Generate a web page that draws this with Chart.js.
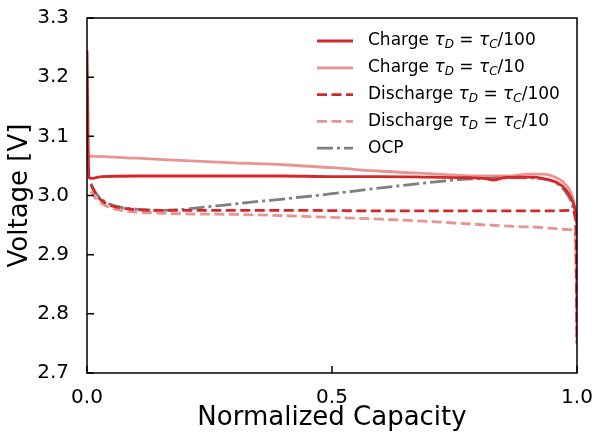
<!DOCTYPE html>
<html>
<head>
<meta charset="utf-8">
<script src="https://cdn.jsdelivr.net/npm/chart.js@4"></script>
<style>
  body { margin: 0; background: #fff; }
  canvas { display: block; }
</style>
</head>
<body>
<canvas id="volt-graph" width="595" height="436"></canvas>
<script>
// normalized capacity / voltage pairs
var chargeFastCap = [0, 0.004, 0.01, 0.03, 0.1, 0.2, 0.3, 0.4, 0.5, 0.6, 0.7, 0.78, 0.81, 0.83, 0.85, 0.88, 0.91, 0.93, 0.95, 0.97, 0.985, 0.995, 1.0];
var chargeFastV   = [3.245, 3.03, 3.029, 3.032, 3.033, 3.033, 3.033, 3.033, 3.032, 3.032, 3.031, 3.03, 3.029, 3.026, 3.03, 3.031, 3.031, 3.029, 3.025, 3.016, 3.0, 2.98, 2.955];

var chargeSlowCap = [0, 0.01, 0.1, 0.2, 0.3, 0.4, 0.5, 0.6, 0.7, 0.8, 0.86, 0.9, 0.93, 0.96, 0.975, 0.99, 1.0];
var chargeSlowV   = [3.066, 3.066, 3.063, 3.059, 3.055, 3.052, 3.047, 3.041, 3.037, 3.033, 3.033, 3.036, 3.036, 3.029, 3.02, 3.0, 2.96];

var dischargeFastCap = [0.008, 0.02, 0.04, 0.07, 0.1, 0.15, 0.2, 0.4, 0.6, 0.8, 0.95, 0.99, 0.997, 1.0];
var dischargeFastV   = [3.018, 3.0, 2.986, 2.979, 2.976, 2.975, 2.975, 2.975, 2.974, 2.974, 2.974, 2.975, 2.96, 2.75];

var dischargeSlowCap = [0.008, 0.02, 0.04, 0.07, 0.1, 0.15, 0.2, 0.3, 0.4, 0.5, 0.6, 0.7, 0.8, 0.9, 0.99, 0.997, 1.0];
var dischargeSlowV   = [3.007, 2.993, 2.982, 2.975, 2.972, 2.97, 2.969, 2.968, 2.966, 2.963, 2.96, 2.956, 2.951, 2.947, 2.942, 2.93, 2.75];

var ocpCap = [0.008, 0.02, 0.04, 0.07, 0.1, 0.15, 0.2, 0.27, 0.35, 0.4, 0.5, 0.6, 0.7, 0.76, 0.82, 0.88, 0.93, 0.96, 0.98, 0.99, 1.0];
var ocpV   = [3.02, 3.002, 2.988, 2.98, 2.977, 2.975, 2.977, 2.983, 2.99, 2.994, 3.003, 3.013, 3.022, 3.027, 3.029, 3.03, 3.028, 3.02, 3.002, 2.985, 2.95];

var yTicks = [2.7, 2.8, 2.9, 3.0, 3.1, 3.2, 3.3];
var xTicks = [0, 0.5, 1.0];

// legend text pieces: [prefix, denominator]
var legendLabels = [
	['Charge', '100'],
	['Charge', '10'],
	['Discharge', '100'],
	['Discharge', '10'],
	['OCP', null]
];

var FONT = '"DejaVu Sans", sans-serif';

function pts(xs, ys) {
	return xs.map(function(x, i) { return {x: x, y: ys[i]}; });
}

function line(label, xs, ys, color, dash) {
	return {
		label: label,
		data: pts(xs, ys),
		borderColor: color,
		backgroundColor: color,
		borderWidth: 2.8,
		borderDash: dash || [],
		pointRadius: 0,
		fill: false,
		tension: 0,
		cubicInterpolationMode: 'monotone'
	};
}

var dark = 'rgb(214, 39, 40)';
var light = 'rgba(214, 39, 40, 0.5)';
var ocpColor = 'rgba(0, 0, 0, 0.5)';

var frame = {
	id: 'frame',
	afterDraw: function(chart) {
		var ctx = chart.ctx, a = chart.chartArea;
		var xs = chart.scales.x, ys = chart.scales.y;
		ctx.save();
		ctx.strokeStyle = '#000';
		ctx.lineWidth = 1.5;
		ctx.strokeRect(a.left, a.top, a.right - a.left, a.bottom - a.top);
		ctx.beginPath();
		yTicks.forEach(function(v) {
			var p = ys.getPixelForValue(v);
			ctx.moveTo(a.left, p); ctx.lineTo(a.left + 7, p);
		});
		xTicks.forEach(function(v) {
			var p = xs.getPixelForValue(v);
			ctx.moveTo(p, a.bottom); ctx.lineTo(p, a.bottom - 7);
		});
		ctx.stroke();

		// legend
		var x0 = 317, x1 = 353, tx = 368, y0 = 41, dy = 26.8;
		chart.data.datasets.forEach(function(ds, i) {
			var y = y0 + i * dy;
			ctx.strokeStyle = ds.borderColor;
			ctx.lineWidth = ds.borderWidth;
			ctx.setLineDash(ds.borderDash);
			ctx.beginPath(); ctx.moveTo(x0, y); ctx.lineTo(x1, y); ctx.stroke();
			ctx.setLineDash([]);
			ctx.fillStyle = '#000';
			ctx.textBaseline = 'middle';
			var lab = legendLabels[i];
			var x = tx;
			function put(t, f, dyy) {
				ctx.font = f;
				ctx.fillText(t, x, y + (dyy || 0));
				x += ctx.measureText(t).width;
			}
			var big = '17px ' + FONT, it = 'italic 17px ' + FONT, sub = 'italic 12px ' + FONT;
			if (lab[1] === null) {
				put(lab[0], big);
			} else {
				put(lab[0] + ' ', big);
				put('\u03c4', it);
				put('D', sub, 4);
				put(' = ', big);
				put('\u03c4', it);
				put('C', sub, 4);
				put('/' + lab[1], big);
			}
		});
		ctx.restore();
	}
};

new Chart(document.getElementById('volt-graph'), {
	type: 'line',
	data: {
		datasets: [
			line('Charge fast', chargeFastCap, chargeFastV, dark),
			line('Charge slow', chargeSlowCap, chargeSlowV, light),
			line('Discharge fast', dischargeFastCap, dischargeFastV, dark, [10, 4.5]),
			line('Discharge slow', dischargeSlowCap, dischargeSlowV, light, [10, 4.5]),
			line('OCP', ocpCap, ocpV, ocpColor, [16, 4, 3, 4])
		]
	},
	options: {
		responsive: false,
		animation: false,
		layout: { padding: { left: 0, right: 18, top: 18, bottom: 0 } },
		plugins: { legend: { display: false }, tooltip: { enabled: false } },
		scales: {
			x: {
				type: 'linear', min: 0, max: 1,
				grid: { display: false },
				border: { display: false },
				afterBuildTicks: function(s) { s.ticks = xTicks.map(function(v) { return {value: v}; }); },
				afterFit: function(s) { s.height = 63; s.paddingLeft = 0; s.paddingRight = 0; },
				ticks: {
					color: '#000', padding: 5, maxRotation: 0,
					font: { family: FONT, size: 20 },
					callback: function(v) { return v.toFixed(1); }
				},
				title: { display: true, text: 'Normalized Capacity', color: '#000', font: { family: FONT, size: 26 }, padding: { top: 0, bottom: 2 } }
			},
			y: {
				min: 2.7, max: 3.3,
				grid: { display: false },
				border: { display: false },
				afterBuildTicks: function(s) { s.ticks = yTicks.map(function(v) { return {value: v}; }); },
				afterFit: function(s) { s.width = 87; s.paddingTop = 0; s.paddingBottom = 0; },
				ticks: {
					color: '#000', padding: 10,
					font: { family: FONT, size: 20 },
					callback: function(v) { return v.toFixed(1); }
				},
				title: { display: true, text: 'Voltage [V]', color: '#000', font: { family: FONT, size: 26 }, padding: { top: 5, bottom: 0 } }
			}
		}
	},
	plugins: [frame]
});
</script>
</body>
</html>
